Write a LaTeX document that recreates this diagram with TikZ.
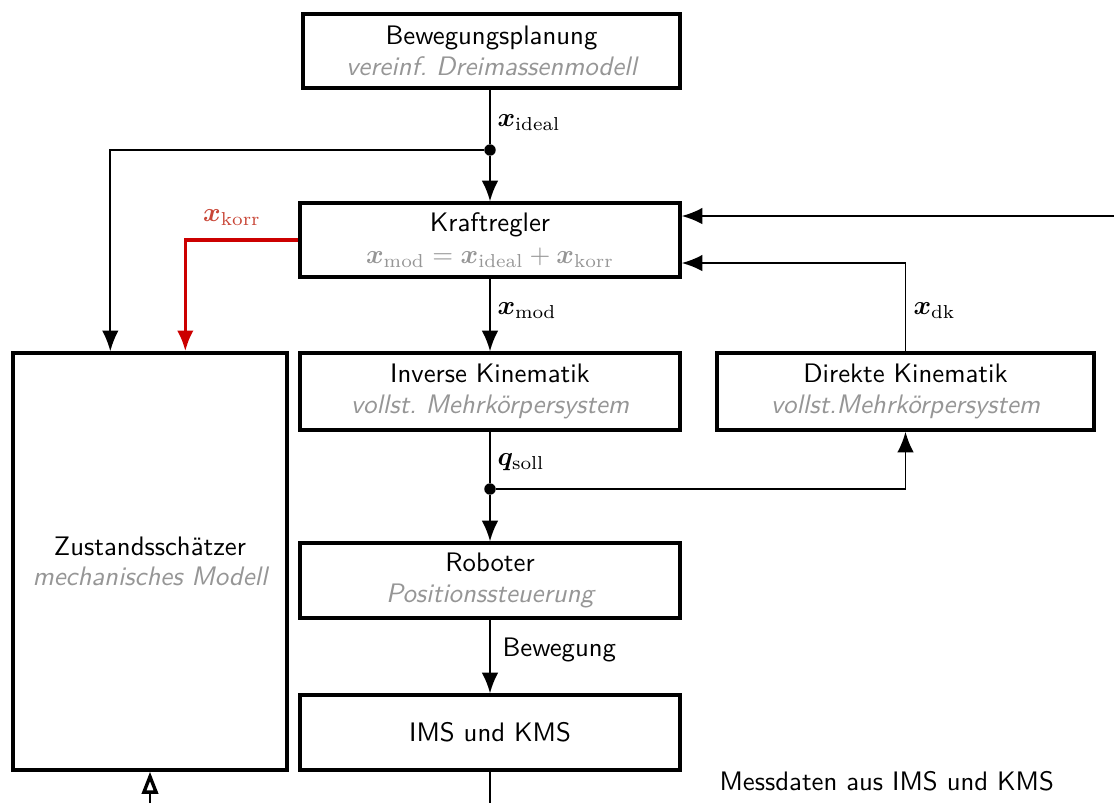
\RequirePackage{fix-cm}
\documentclass[tikz,border=0pt]{standalone}
\usepackage{amsmath}
\usepackage{bm}
\usepackage{fontspec}
\usetikzlibrary{arrows.meta,calc}
\frenchspacing
\definecolor{subgray}{RGB}{150,150,150}
\definecolor{korrred}{RGB}{204,0,0}
\definecolor{korrlabel}{RGB}{200,70,55}
\tikzset{
  every node/.style={font=\fontsize{10.3}{12.4}\selectfont},
  block/.style={draw,line width=1.3pt,fill=white,minimum width=380*0.385pt,
    minimum height=75*0.385pt,align=center,inner sep=0pt,
    font=\fontsize{10.3}{12.4}\selectfont\sffamily},
  conn/.style={line width=0.75pt,-{Latex[length=8pt,width=6.4pt]}},
  plainconn/.style={line width=0.75pt},
  redconn/.style={line width=1.3pt,draw=korrred,-{Latex[length=8pt,width=6.4pt]}},
  openconn/.style={line width=0.75pt,-{Triangle[open,fill=white,length=8.5pt,width=6.2pt,line width=1.3pt]}},
  junction/.style={circle,fill,inner sep=0pt,minimum size=4.4pt},
  lbl/.style={anchor=west,inner sep=0pt},
}
\newcommand{\sub}[1]{{\color{subgray}\itshape #1}}
\begin{document}
\begin{tikzpicture}[x=0.385pt,y=-0.385pt]
\useasboundingbox (0,0) rectangle (1114,803);

% blocks
\node[block,minimum width=377*0.385pt,minimum height=74*0.385pt] (plan) at (491.5,51)
  {Bewegungsplanung\\[-0.5pt]\sub{vereinf. Dreimassenmodell}};
\node[block,minimum height=74*0.385pt] (kraft) at (490,240)
  {Kraftregler\\[0pt]{\color{subgray}$\bm{x}_{\mathrm{mod}}=\bm{x}_{\mathrm{ideal}}+\bm{x}_{\mathrm{korr}}$}};
\node[block,minimum height=77*0.385pt] (inv) at (490,391.5)
  {Inverse Kinematik\\[-0.5pt]\sub{vollst. Mehrk\"orpersystem}};
\node[block,minimum width=377*0.385pt,minimum height=77*0.385pt] (dir) at (905.5,391.5)
  {Direkte Kinematik\\[-0.5pt]\sub{vollst.Mehrk\"orpersystem}};
\node[block] (rob) at (490,580.5)
  {Roboter\\[-0.5pt]\sub{Positionssteuerung}};
\node[block] (ims) at (490,732.5) {IMS und KMS};
\node[block,minimum width=274*0.385pt,minimum height=417*0.385pt] (zs) at (150,561.5)
  {Zustandssch\"atzer\\[-1pt]\sub{mechanisches Modell}};

% junctions and free ends
\node[junction] (d1) at (490,150) {};
\node[junction] (d2) at (490,489) {};
\coordinate (ext) at (1114,216);
\coordinate (imsout) at (490,803);
\coordinate (zsin) at (150,803);

% connectors
\draw[plainconn] (plan.south -| d1) -- (d1);
\draw[conn] (d1) -- (kraft.north -| d1);
\draw[conn] (d1) -| ($(zs.north west)+(99,0)$);
\draw[redconn] (kraft.west) -| ($(zs.north west)+(174,0)$);
\draw[conn] (ext) -- (kraft.east |- ext);
\draw[conn] (dir.north) |- ($(kraft.east)+(0,23)$);
\draw[conn] (kraft.south) -- (inv.north);
\draw[plainconn] (inv.south) -- (d2);
\draw[conn] (d2) -- (rob.north);
\draw[conn] (d2) -| (dir.south);
\draw[conn] (rob.south) -- (ims.north);
\draw[plainconn] (ims.south) -- (imsout);
\draw[openconn] (zsin) -- (zs.south);

% labels
\node[lbl] (lideal) at (497,123) {$\bm{x}_{\mathrm{ideal}}$};
\node[lbl] (lmod) at (497,311) {$\bm{x}_{\mathrm{mod}}$};
\node[lbl] (ldk) at (913,311) {$\bm{x}_{\mathrm{dk}}$};
\node[lbl] (lsoll) at (497,462) {$\bm{q}_{\mathrm{soll}}$};
\node[lbl,font=\fontsize{10.3}{12.4}\selectfont\sffamily] (lbew) at (502,650) {Bewegung};
\node[inner sep=0pt,text=korrlabel] (lkorr) at (232,218) {$\bm{x}_{\mathrm{korr}}$};
\node[lbl,font=\fontsize{10.3}{12.4}\selectfont\sffamily] (lmess) at (719,781) {Messdaten aus IMS und KMS};
\end{tikzpicture}
\end{document}
